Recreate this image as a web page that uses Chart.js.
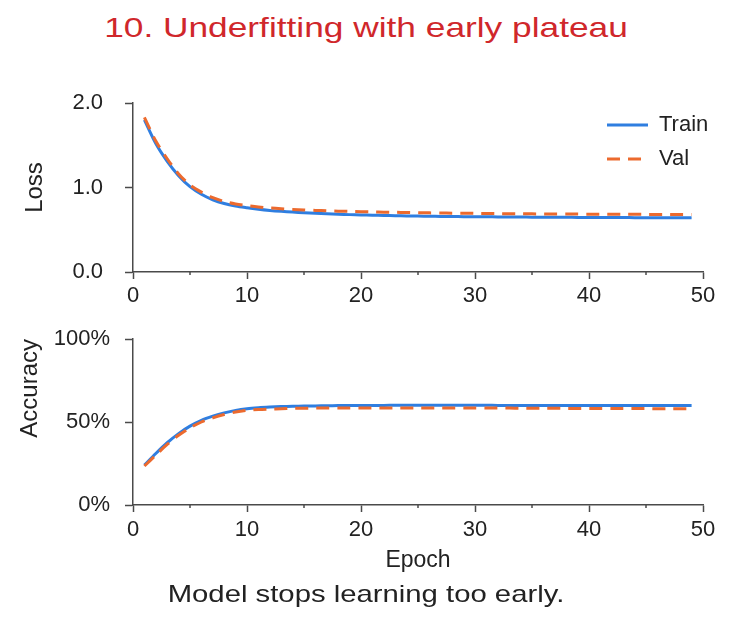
<!DOCTYPE html>
<html>
<head>
<meta charset="utf-8">
<script src="https://cdn.jsdelivr.net/npm/chart.js@4.4.1/dist/chart.umd.min.js"></script>
<style>
  body { margin: 0; background: #fff; font-family: 'Liberation Sans', Arial, sans-serif; }
  #wrap { position: relative; width: 732px; height: 620px; overflow: hidden; }
  canvas { position: absolute; left: 0; }
  #loss { top: 80px; }
  #acc { top: 320px; }
  .txt { position: absolute; left: 0; width: 732px; text-align: center; white-space: nowrap; }
  #title { top: 11px; font-size: 28px; line-height: 34px; color: #d0272b; transform: scaleX(1.26); transform-origin: 366px 0; }
  #note { top: 579px; font-size: 24px; line-height: 30px; color: #222; transform: scaleX(1.22); transform-origin: 366px 0; }
</style>
</head>
<body>
<div id="wrap">
  <div id="title" class="txt">10. Underfitting with early plateau</div>
  <canvas id="loss" width="732" height="240"></canvas>
  <canvas id="acc" width="732" height="260"></canvas>
  <div id="note" class="txt">Model stops learning too early.</div>
</div>
<script>
(() => {
    'use strict'

    const epochs = [1, 2, 3, 4, 5, 6, 7, 8, 9, 10, 11, 12, 13, 14, 15, 16, 17, 18, 19, 20,
        21, 22, 23, 24, 25, 26, 27, 28, 29, 30, 31, 32, 33, 34, 35, 36, 37, 38, 39, 40,
        41, 42, 43, 44, 45, 46, 47, 48, 49]

    const trainLoss = [1.80, 1.52, 1.31, 1.14, 1.01, 0.92, 0.855, 0.81, 0.78, 0.76,
        0.743, 0.729, 0.718, 0.709, 0.701, 0.694, 0.688, 0.683, 0.679, 0.675,
        0.672, 0.669, 0.666, 0.664, 0.662, 0.660, 0.658, 0.656, 0.655, 0.654,
        0.653, 0.652, 0.651, 0.650, 0.649, 0.648, 0.647, 0.647, 0.646, 0.645,
        0.645, 0.644, 0.644, 0.643, 0.643, 0.642, 0.642, 0.641, 0.641]
    const valLoss = [1.83, 1.55, 1.34, 1.16, 1.03, 0.945, 0.88, 0.835, 0.805, 0.785,
        0.770, 0.758, 0.749, 0.741, 0.735, 0.729, 0.724, 0.720, 0.717, 0.714,
        0.711, 0.708, 0.706, 0.704, 0.702, 0.700, 0.698, 0.696, 0.695, 0.694,
        0.692, 0.691, 0.690, 0.689, 0.688, 0.687, 0.686, 0.686, 0.685, 0.684,
        0.684, 0.683, 0.683, 0.682, 0.682, 0.681, 0.681, 0.680, 0.680]

    const trainAcc = [24, 31, 37.5, 43, 47.5, 51, 53.5, 55.5, 57, 58,
        58.6, 59, 59.3, 59.5, 59.6, 59.7, 59.8, 59.9, 59.9, 60,
        60, 60, 60.1, 60.1, 60.1, 60.1, 60.1, 60.1, 60.1, 60.1,
        60.1, 60, 60, 60, 60, 60, 60, 60, 60, 60,
        60, 60, 60, 60, 60, 60, 60, 60, 60]
    const valAcc = [23.5, 30, 36.5, 42, 46.5, 50, 52.5, 54.5, 56, 57,
        57.5, 57.8, 58, 58.2, 58.3, 58.4, 58.4, 58.5, 58.5, 58.5,
        58.5, 58.5, 58.5, 58.5, 58.5, 58.5, 58.5, 58.5, 58.5, 58.4,
        58.4, 58.4, 58.4, 58.3, 58.3, 58.3, 58.3, 58.2, 58.2, 58.2,
        58.2, 58.1, 58.1, 58.1, 58.1, 58.0, 58.0, 58.0, 58.0]

    const seriesNames = ['Train', 'Val']
    const epochTicks = [0, 10, 20, 30, 40, 50]
    const minorEpochTicks = [5, 15, 25, 35, 45]
    const lossTicks = [0, 1, 2]
    const accTicks = [0, 50, 100]

    const FONT = "'Liberation Sans', Arial, sans-serif"
    const AXIS = '#4a4a4a'
    const BLUE = '#2f7ee0'
    const ORANGE = '#ec6a2e'

    const points = (ys) => epochs.map((e, i) => ({ x: e, y: ys[i] }))

    const minorTicks = {
        id: 'minorTicks',
        afterDraw(chart) {
            const sx = chart.scales.x
            const ctx = chart.ctx
            ctx.save()
            ctx.strokeStyle = AXIS
            ctx.lineWidth = 1.5
            minorEpochTicks.forEach(v => {
                const px = sx.getPixelForValue(v)
                ctx.beginPath()
                ctx.moveTo(px, sx.top)
                ctx.lineTo(px, sx.top + 3)
                ctx.stroke()
            })
            ctx.restore()
        }
    }

    // legend drawn inside the plot, stacked like the original
    const insideLegend = {
        id: 'insideLegend',
        afterDatasetsDraw(chart, args, opts) {
            if (!opts.show) return
            const ctx = chart.ctx
            const area = chart.chartArea
            ctx.save()
            ctx.font = '22px ' + FONT
            ctx.textBaseline = 'middle'
            ctx.fillStyle = '#222'
            seriesNames.forEach((name, i) => {
                const ds = chart.data.datasets.find(d => d.label === name)
                const y = area.top + 22 + i * 34
                const x0 = area.right - 96
                ctx.beginPath()
                ctx.strokeStyle = ds.borderColor
                ctx.lineWidth = ds.borderWidth
                ctx.setLineDash(ds.borderDash || [])
                ctx.moveTo(x0, y)
                ctx.lineTo(x0 + 41, y)
                ctx.stroke()
                ctx.setLineDash([])
                ctx.fillText(name, x0 + 52, y)
            })
            ctx.restore()
        }
    }

    function makeChart (id, cfg) {
        return new Chart(document.getElementById(id), {
            type: 'line',
            data: {
                datasets: [{
                    label: seriesNames[0],
                    data: points(cfg.train),
                    borderColor: BLUE,
                    borderWidth: 3,
                    pointRadius: 0,
                    tension: 0.3,
                    order: 1
                }, {
                    label: seriesNames[1],
                    data: points(cfg.val),
                    borderColor: ORANGE,
                    borderWidth: 3,
                    borderDash: [13, 8],
                    pointRadius: 0,
                    tension: 0.3,
                    order: 0
                }]
            },
            options: {
                responsive: false,
                animation: false,
                events: [],
                layout: { padding: { top: cfg.padTop, right: 29, left: 0, bottom: 0 } },
                scales: {
                    x: {
                        type: 'linear',
                        min: 0,
                        max: 50,
                        afterBuildTicks: (s) => { s.ticks = epochTicks.map(v => ({ value: v })) },
                        afterFit: (s) => { s.height = cfg.xHeight },
                        border: { display: true, color: AXIS, width: 1.5 },
                        grid: { drawOnChartArea: false, drawTicks: true, tickLength: 7, color: AXIS, tickWidth: 1.5 },
                        ticks: { color: '#222', font: { family: FONT, size: 22 }, padding: cfg.xPad, maxRotation: 0 },
                        title: cfg.xTitle ? {
                            display: true, text: 'Epoch', color: '#222',
                            font: { family: FONT, size: 23 }, padding: { top: 0, bottom: 6 }
                        } : { display: false }
                    },
                    y: {
                        min: cfg.yTicks[0],
                        max: cfg.yTicks[cfg.yTicks.length - 1],
                        afterBuildTicks: (s) => { s.ticks = cfg.yTicks.map(v => ({ value: v })) },
                        afterFit: (s) => {
                            s.width = 133
                            s.paddingTop = 0
                            s.paddingBottom = 0
                        },
                        border: { display: true, color: AXIS, width: 1.5 },
                        grid: { drawOnChartArea: false, drawTicks: true, tickLength: 8, color: AXIS, tickWidth: 1.5 },
                        ticks: { color: '#222', font: { family: FONT, size: 22 }, padding: cfg.yPad, callback: cfg.fmt },
                        title: {
                            display: true, text: cfg.yTitle, color: '#222', align: cfg.titleAlign,
                            font: { family: FONT, size: 24 }, padding: { top: cfg.titlePad, bottom: 0 }
                        }
                    }
                },
                plugins: {
                    legend: { display: false },
                    tooltip: { enabled: false },
                    insideLegend: { show: cfg.legend }
                }
            },
            plugins: [minorTicks, insideLegend]
        })
    }

    makeChart('loss', {
        train: trainLoss, val: valLoss, yTicks: lossTicks,
        fmt: (v) => Number(v).toFixed(1), yTitle: 'Loss', titleAlign: 'center', titlePad: 21,
        padTop: 23, xHeight: 48, xPad: 4, yPad: 22, xTitle: false, legend: true
    })
    makeChart('acc', {
        train: trainAcc, val: valAcc, yTicks: accTicks,
        fmt: (v) => v + '%', yTitle: 'Accuracy', titleAlign: 'end', titlePad: 16,
        padTop: 19, xHeight: 75, xPad: 5, yPad: 15, xTitle: true, legend: false
    })
})()
</script>
</body>
</html>
